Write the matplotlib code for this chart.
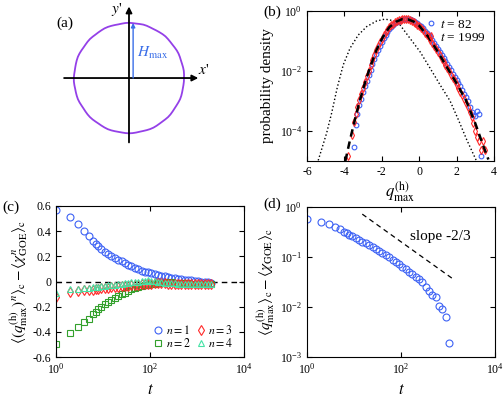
import numpy as np
import matplotlib.pyplot as plt
from matplotlib.ticker import NullLocator, FixedFormatter, FixedLocator

plt.rcParams['font.family'] = ['Liberation Serif', 'DejaVu Serif']
plt.rcParams['mathtext.fontset'] = 'stix'
plt.rcParams['axes.unicode_minus'] = False
plt.rcParams['font.size'] = 8.5
plt.rcParams['xtick.direction'] = 'in'
plt.rcParams['ytick.direction'] = 'in'
plt.rcParams['xtick.top'] = True
plt.rcParams['ytick.right'] = True
plt.rcParams['xtick.major.size'] = 3.5
plt.rcParams['ytick.major.size'] = 3.5
plt.rcParams['axes.linewidth'] = 0.8

BLUE = '#3d62f5'
RED = '#ff2a2a'
GREEN = '#33a02c'
AQUA = '#45e3a5'
PURPLE = '#9440e8'

# (a) rough interface, radius vs angle (unit = mean radius)
radii = [1.000, 1.003, 1.005, 1.002, 0.998, 0.997, 1.001, 1.004, 1.003, 0.999, 0.996, 0.998,
         1.002, 1.006, 1.004, 1.000, 0.997, 0.995, 0.998, 1.003, 1.005, 1.001, 0.998, 1.000,
         1.004, 1.002, 0.997, 0.994, 0.997, 1.001, 1.005, 1.006, 1.002, 0.999, 0.997, 1.000,
         1.003, 1.001, 0.997, 0.996, 1.000, 1.004, 1.006, 1.003, 0.999, 0.996, 0.995, 0.999,
         1.003, 1.004, 1.001, 0.998, 1.000, 1.003, 1.005, 1.002, 0.997, 0.995, 0.998, 1.002,
         1.004, 1.002, 0.998, 0.996, 0.999, 1.003, 1.006, 1.004, 1.000, 0.997, 0.998, 1.002,
         1.005, 1.003, 0.999, 0.995, 0.996, 1.000, 1.004, 1.005, 1.002, 0.998, 0.997, 1.000,
         1.004, 1.003, 0.999, 0.996, 0.997, 1.001, 1.005, 1.004, 1.000, 0.997, 0.998, 1.000]

# (b) histograms
blue_x = [-3.5, -3.4, -3.3, -3.2, -3.1, -3.0, -2.9, -2.8, -2.7, -2.6, -2.5, -2.4, -2.3,
          -2.2, -2.1, -2.0, -1.9, -1.8, -1.7, -1.6, -1.5, -1.4, -1.3, -1.2, -1.1, -1.0,
          -0.9, -0.8, -0.7, -0.6, -0.5, -0.4, -0.3, -0.2, -0.1, 0.0, 0.1, 0.2, 0.3, 0.4,
          0.5, 0.6, 0.7, 0.8, 0.9, 1.0, 1.1, 1.2, 1.3, 1.4, 1.5, 1.6, 1.7, 1.8, 1.9, 2.0,
          2.1, 2.2, 2.3, 2.4, 2.5, 2.6, 2.7, 2.8, 2.9, 3.0, 3.1, 3.2, 3.3]
blue_logp = [-4.55, -3.80, -3.45, -3.15, -2.95, -2.72, -2.52, -2.33, -2.14, -1.96, -1.78,
             -1.61, -1.45, -1.30, -1.16, -1.03, -0.91, -0.80, -0.70, -0.61, -0.54, -0.48,
             -0.42, -0.38, -0.34, -0.31, -0.29, -0.28, -0.27, -0.28, -0.29, -0.31, -0.34,
             -0.37, -0.41, -0.46, -0.52, -0.59, -0.66, -0.73, -0.81, -0.89, -0.98, -1.07,
             -1.16, -1.26, -1.36, -1.46, -1.56, -1.67, -1.77, -1.88, -1.98, -2.09, -2.19,
             -2.30, -2.41, -2.52, -2.64, -2.76, -2.88, -3.02, -3.22, -3.38, -3.46, -3.50,
             -3.34, -3.45, -4.85]
red_x = [-3.8, -3.6, -3.5, -3.4, -3.3, -3.2, -3.1, -3.0, -2.9, -2.8, -2.7, -2.6, -2.5,
         -2.4, -2.3, -2.2, -2.1, -2.0, -1.9, -1.8, -1.7, -1.6, -1.5, -1.4, -1.3, -1.2,
         -1.1, -1.0, -0.9, -0.8, -0.7, -0.6, -0.5, -0.4, -0.3, -0.2, -0.1, 0.0, 0.1, 0.2,
         0.3, 0.4, 0.5, 0.6, 0.7, 0.8, 0.9, 1.0, 1.1, 1.2, 1.3, 1.4, 1.5, 1.6, 1.7, 1.8,
         1.9, 2.0, 2.1, 2.2, 2.3, 2.4, 2.5, 2.6, 2.7, 2.8, 2.9, 3.0, 3.1, 3.2, 3.3, 3.4,
         3.5]
red_logp = [-4.85, -4.12, -3.70, -3.45, -3.20, -2.98, -2.78, -2.57, -2.37, -2.18, -1.99,
            -1.81, -1.64, -1.48, -1.32, -1.18, -1.05, -0.93, -0.82, -0.72, -0.63, -0.55,
            -0.49, -0.44, -0.39, -0.35, -0.32, -0.30, -0.28, -0.27, -0.28, -0.29, -0.31,
            -0.34, -0.37, -0.41, -0.46, -0.51, -0.58, -0.65, -0.73, -0.81, -0.89, -0.98,
            -1.08, -1.18, -1.28, -1.39, -1.49, -1.60, -1.70, -1.81, -1.91, -2.02, -2.13,
            -2.24, -2.35, -2.46, -2.57, -2.69, -2.81, -2.93, -3.06, -3.20, -3.38, -3.55,
            -3.75, -4.01, -4.20, -4.34, -4.62, -4.34, -4.62]
tw_x = [-3.95, -3.7, -3.45, -3.2, -2.95, -2.65, -2.3, -1.95, -1.6, -1.25, -0.9, -0.6,
        -0.3, 0.0, 0.5, 1.0, 1.5, 2.0, 2.5, 3.0, 3.4, 3.7]
tw_logp = [-5.0, -4.3, -3.65, -3.05, -2.5, -1.92, -1.33, -0.88, -0.55, -0.37, -0.28,
           -0.29, -0.36, -0.5, -0.88, -1.37, -1.9, -2.42, -2.98, -3.75, -4.45, -4.95]
gue_x = [-5.40, -4.95, -4.68, -4.38, -4.06, -3.70, -3.26, -2.81, -2.27, -1.83, -1.40,
         -1.03, -0.49, 0.04, 0.58, 1.11, 1.65, 2.09, 2.54, 3.05]
gue_logp = [-4.98, -4.07, -3.40, -2.55, -1.80, -1.25, -0.81, -0.53, -0.34, -0.28, -0.33,
            -0.47, -0.92, -1.36, -1.91, -2.46, -3.0, -3.62, -4.29, -4.98]

# (c), (d) cumulant differences vs t
t = [1, 2, 3, 4, 5, 6, 7, 8, 9, 11, 13, 15, 18, 21, 25, 29, 34, 40, 47, 56, 66, 77, 91,
     107, 126, 148, 175, 206, 242, 285, 336, 396, 466, 549, 646, 761, 897, 1056, 1244,
     1465, 1726, 1999]
n1 = [0.565, 0.51, 0.46, 0.40, 0.36, 0.32, 0.30, 0.28, 0.26, 0.236, 0.219, 0.203, 0.188,
      0.171, 0.161, 0.147, 0.134, 0.122, 0.11, 0.098, 0.087, 0.079, 0.072, 0.064, 0.057,
      0.051, 0.046, 0.040, 0.036, 0.031, 0.0255, 0.021, 0.017, 0.0156, 0.0105, 0.0093,
      0.0064, 0.0019, -0.003, -0.005, -0.007, -0.008]
n2 = [-0.50, -0.41, -0.36, -0.32, -0.295, -0.26, -0.24, -0.22, -0.20, -0.18, -0.166,
      -0.148, -0.132, -0.116, -0.10, -0.09, -0.076, -0.062, -0.054, -0.046, -0.036, -0.03,
      -0.025, -0.02, -0.016, -0.012, -0.010, -0.008, -0.006, -0.006, -0.008, -0.010,
      -0.012, -0.014, -0.015, -0.016, -0.016, -0.017, -0.018, -0.018, -0.019, -0.02]
n3 = [-0.12, -0.08, -0.075, -0.07, -0.068, -0.065, -0.06, -0.058, -0.055, -0.05, -0.048,
      -0.045, -0.042, -0.04, -0.037, -0.035, -0.032, -0.03, -0.027, -0.025, -0.022,
      -0.02, -0.018, -0.016, -0.015, -0.014, -0.014, -0.015, -0.016, -0.016, -0.017,
      -0.018, -0.018, -0.019, -0.019, -0.02, -0.02, -0.02, -0.021, -0.02, -0.021, -0.02]
n4 = [-0.095, -0.063, -0.058, -0.055, -0.05, -0.047, -0.043, -0.04, -0.038, -0.035,
      -0.03, -0.028, -0.025, -0.02, -0.017, -0.013, -0.01, -0.007, -0.004, 0.0, 0.003,
      0.006, 0.008, 0.005, 0.002, -0.002, -0.005, -0.008, -0.01, -0.012, -0.014, -0.016,
      -0.018, -0.02, -0.02, -0.021, -0.02, -0.02, -0.019, -0.02, -0.02, -0.019]
slope_t = [15, 1300]
slope_y = [0.72, 0.036]

W, H = 503, 397
fig = plt.figure(figsize=(W / 100, H / 100), dpi=100)


def box(l, t_, r, b):
    return [l / W, 1 - b / H, (r - l) / W, (b - t_) / H]


# ---- (a)
ax_a = fig.add_axes(box(0, 0, 251, 198))
ax_a.set_xlim(-2.345, 2.218)
ax_a.set_ylim(-2.18, 1.418)
ax_a.axis('off')
ang = np.linspace(0, 2 * np.pi, len(radii), endpoint=False)
r_closed = np.append(radii, radii[0])
a_closed = np.append(ang, ang[0])
ax_a.plot(r_closed * np.cos(a_closed), r_closed * np.sin(a_closed), color=PURPLE, lw=1.3)
arrow = dict(arrowstyle='-|>', color='black', lw=1.3, mutation_scale=9, shrinkA=0, shrinkB=0)
ax_a.annotate('', xy=(1.26, 0), xytext=(-1.18, 0), arrowprops=arrow)
ax_a.annotate('', xy=(0, 1.3), xytext=(0, -1.17), arrowprops=arrow)
ax_a.annotate('', xy=(0.075, 1.0), xytext=(0.075, 0),
              arrowprops=dict(arrowstyle='-|>', color='#3a6ee8', lw=1.0, mutation_scale=6,
                              shrinkA=0, shrinkB=0))
ax_a.text(-0.22, 1.24, "$y$'", fontsize=11, ha='center', va='center')
ax_a.text(1.36, 0.15, "$x$'", fontsize=11, ha='center', va='center')
ax_a.text(0.15, 0.45, r'$H_{\max}$', fontsize=11, color='#3a6ee8', ha='left', va='center')
ax_a.text(-1.32, 1.0, '(a)', fontsize=11, ha='left', va='center')

# ---- (b)
ax_b = fig.add_axes(box(307, 10.7, 494, 161))
ax_b.plot(gue_x, 10 ** np.array(gue_logp), ':', color='black', lw=1.0)
ax_b.plot(blue_x, 10 ** np.array(blue_logp), 'o', mfc='none', mec=BLUE, ms=3.4, mew=0.8,
          label=r'$t$ = 82')
ax_b.plot(red_x, 10 ** np.array(red_logp), 'd', mfc='none', mec=RED, ms=3.6, mew=0.8,
          label=r'$t$ = 1999')
ax_b.plot(tw_x, 10 ** np.array(tw_logp), color='black', lw=1.8, dashes=(3, 2), zorder=3)
ax_b.set_yscale('log')
ax_b.set_xlim(-6, 4)
ax_b.set_ylim(1e-5, 1)
ax_b.set_xticks([-6, -4, -2, 0, 2, 4])
ax_b.set_yticks([1e-4, 1e-2, 1])
ax_b.yaxis.set_minor_locator(NullLocator())
ax_b.set_ylabel('probability density', fontsize=11)
ax_b.set_xlabel(r'$q^{(\mathrm{h})}_{\max}$', fontsize=12, labelpad=1)
ax_b.legend(loc='upper right', frameon=False, fontsize=9.5, handlelength=0.8,
            handletextpad=0.3, labelspacing=0.05, borderaxespad=0.2)
fig.text(263 / W, 1 - 12 / H, '(b)', fontsize=11, ha='left', va='center')

# ---- (c)
ax_c = fig.add_axes(box(56, 206, 244, 357))
ax_c.axhline(0, color='black', lw=1.0, dashes=(4, 3))
ax_c.plot(t, n1, 'o', mfc='none', mec=BLUE, ms=5, mew=0.8, label=r'$n = 1$')
ax_c.plot(t, n2, 's', mfc='none', mec=GREEN, ms=4.5, mew=0.8, label=r'$n = 2$')
ax_c.plot(t, n3, 'd', mfc='none', mec=RED, ms=5, mew=0.8, label=r'$n = 3$')
ax_c.plot(t, n4, '^', mfc='none', mec=AQUA, ms=5, mew=0.8, label=r'$n = 4$')
ax_c.set_xscale('log')
ax_c.set_xlim(1, 1e4)
ax_c.set_ylim(-0.6, 0.6)
ax_c.set_xticks([1, 1e2, 1e4])
ax_c.xaxis.set_minor_locator(NullLocator())
ax_c.yaxis.set_major_locator(FixedLocator([-0.6, -0.4, -0.2, 0, 0.2, 0.4, 0.6]))
ax_c.yaxis.set_major_formatter(FixedFormatter(['-0.6', '-0.4', '-0.2', '0', '0.2', '0.4', '0.6']))
ax_c.set_xlabel(r'$t$', fontsize=12)
ax_c.set_ylabel(r'$\langle (q^{(\mathrm{h})}_{\max})^n\rangle_\mathrm{c} - \langle \chi^n_\mathrm{GOE}\rangle_\mathrm{c}$',
                fontsize=11, labelpad=2)
leg_box = box(56, 206, 238, 355)
ax_c.legend(loc='lower right', ncol=2, frameon=False, fontsize=8.5, handlelength=0.7,
            handletextpad=0.3, columnspacing=0.5, labelspacing=0.0, borderaxespad=0,
            bbox_to_anchor=(leg_box[0] + leg_box[2], leg_box[1]), bbox_transform=fig.transFigure)
fig.text(2 / W, 1 - 207 / H, '(c)', fontsize=11, ha='left', va='center')

# ---- (d)
ax_d = fig.add_axes(box(307, 207, 495, 357))
pos = [i for i, v in enumerate(n1) if v > 0]
ax_d.plot([t[i] for i in pos], [n1[i] for i in pos], 'o', mfc='none', mec=BLUE, ms=5, mew=0.8)
ax_d.plot(slope_t, slope_y, color='black', lw=0.9, dashes=(4, 3))
ax_d.text(155, 0.26, 'slope -2/3', fontsize=11, ha='left', va='center')
ax_d.set_xscale('log')
ax_d.set_yscale('log')
ax_d.set_xlim(1, 1e4)
ax_d.set_ylim(1e-3, 1)
ax_d.set_xticks([1, 1e2, 1e4])
ax_d.set_yticks([1e-3, 1e-2, 1e-1, 1])
ax_d.xaxis.set_minor_locator(NullLocator())
ax_d.yaxis.set_minor_locator(NullLocator())
ax_d.set_xlabel(r'$t$', fontsize=12)
ax_d.set_ylabel(r'$\langle q^{(\mathrm{h})}_{\max}\rangle_\mathrm{c} - \langle \chi_\mathrm{GOE}\rangle_\mathrm{c}$',
                fontsize=11, labelpad=2)
fig.text(263 / W, 1 - 204 / H, '(d)', fontsize=11, ha='left', va='center')

fig.savefig('out.png', dpi=100)
